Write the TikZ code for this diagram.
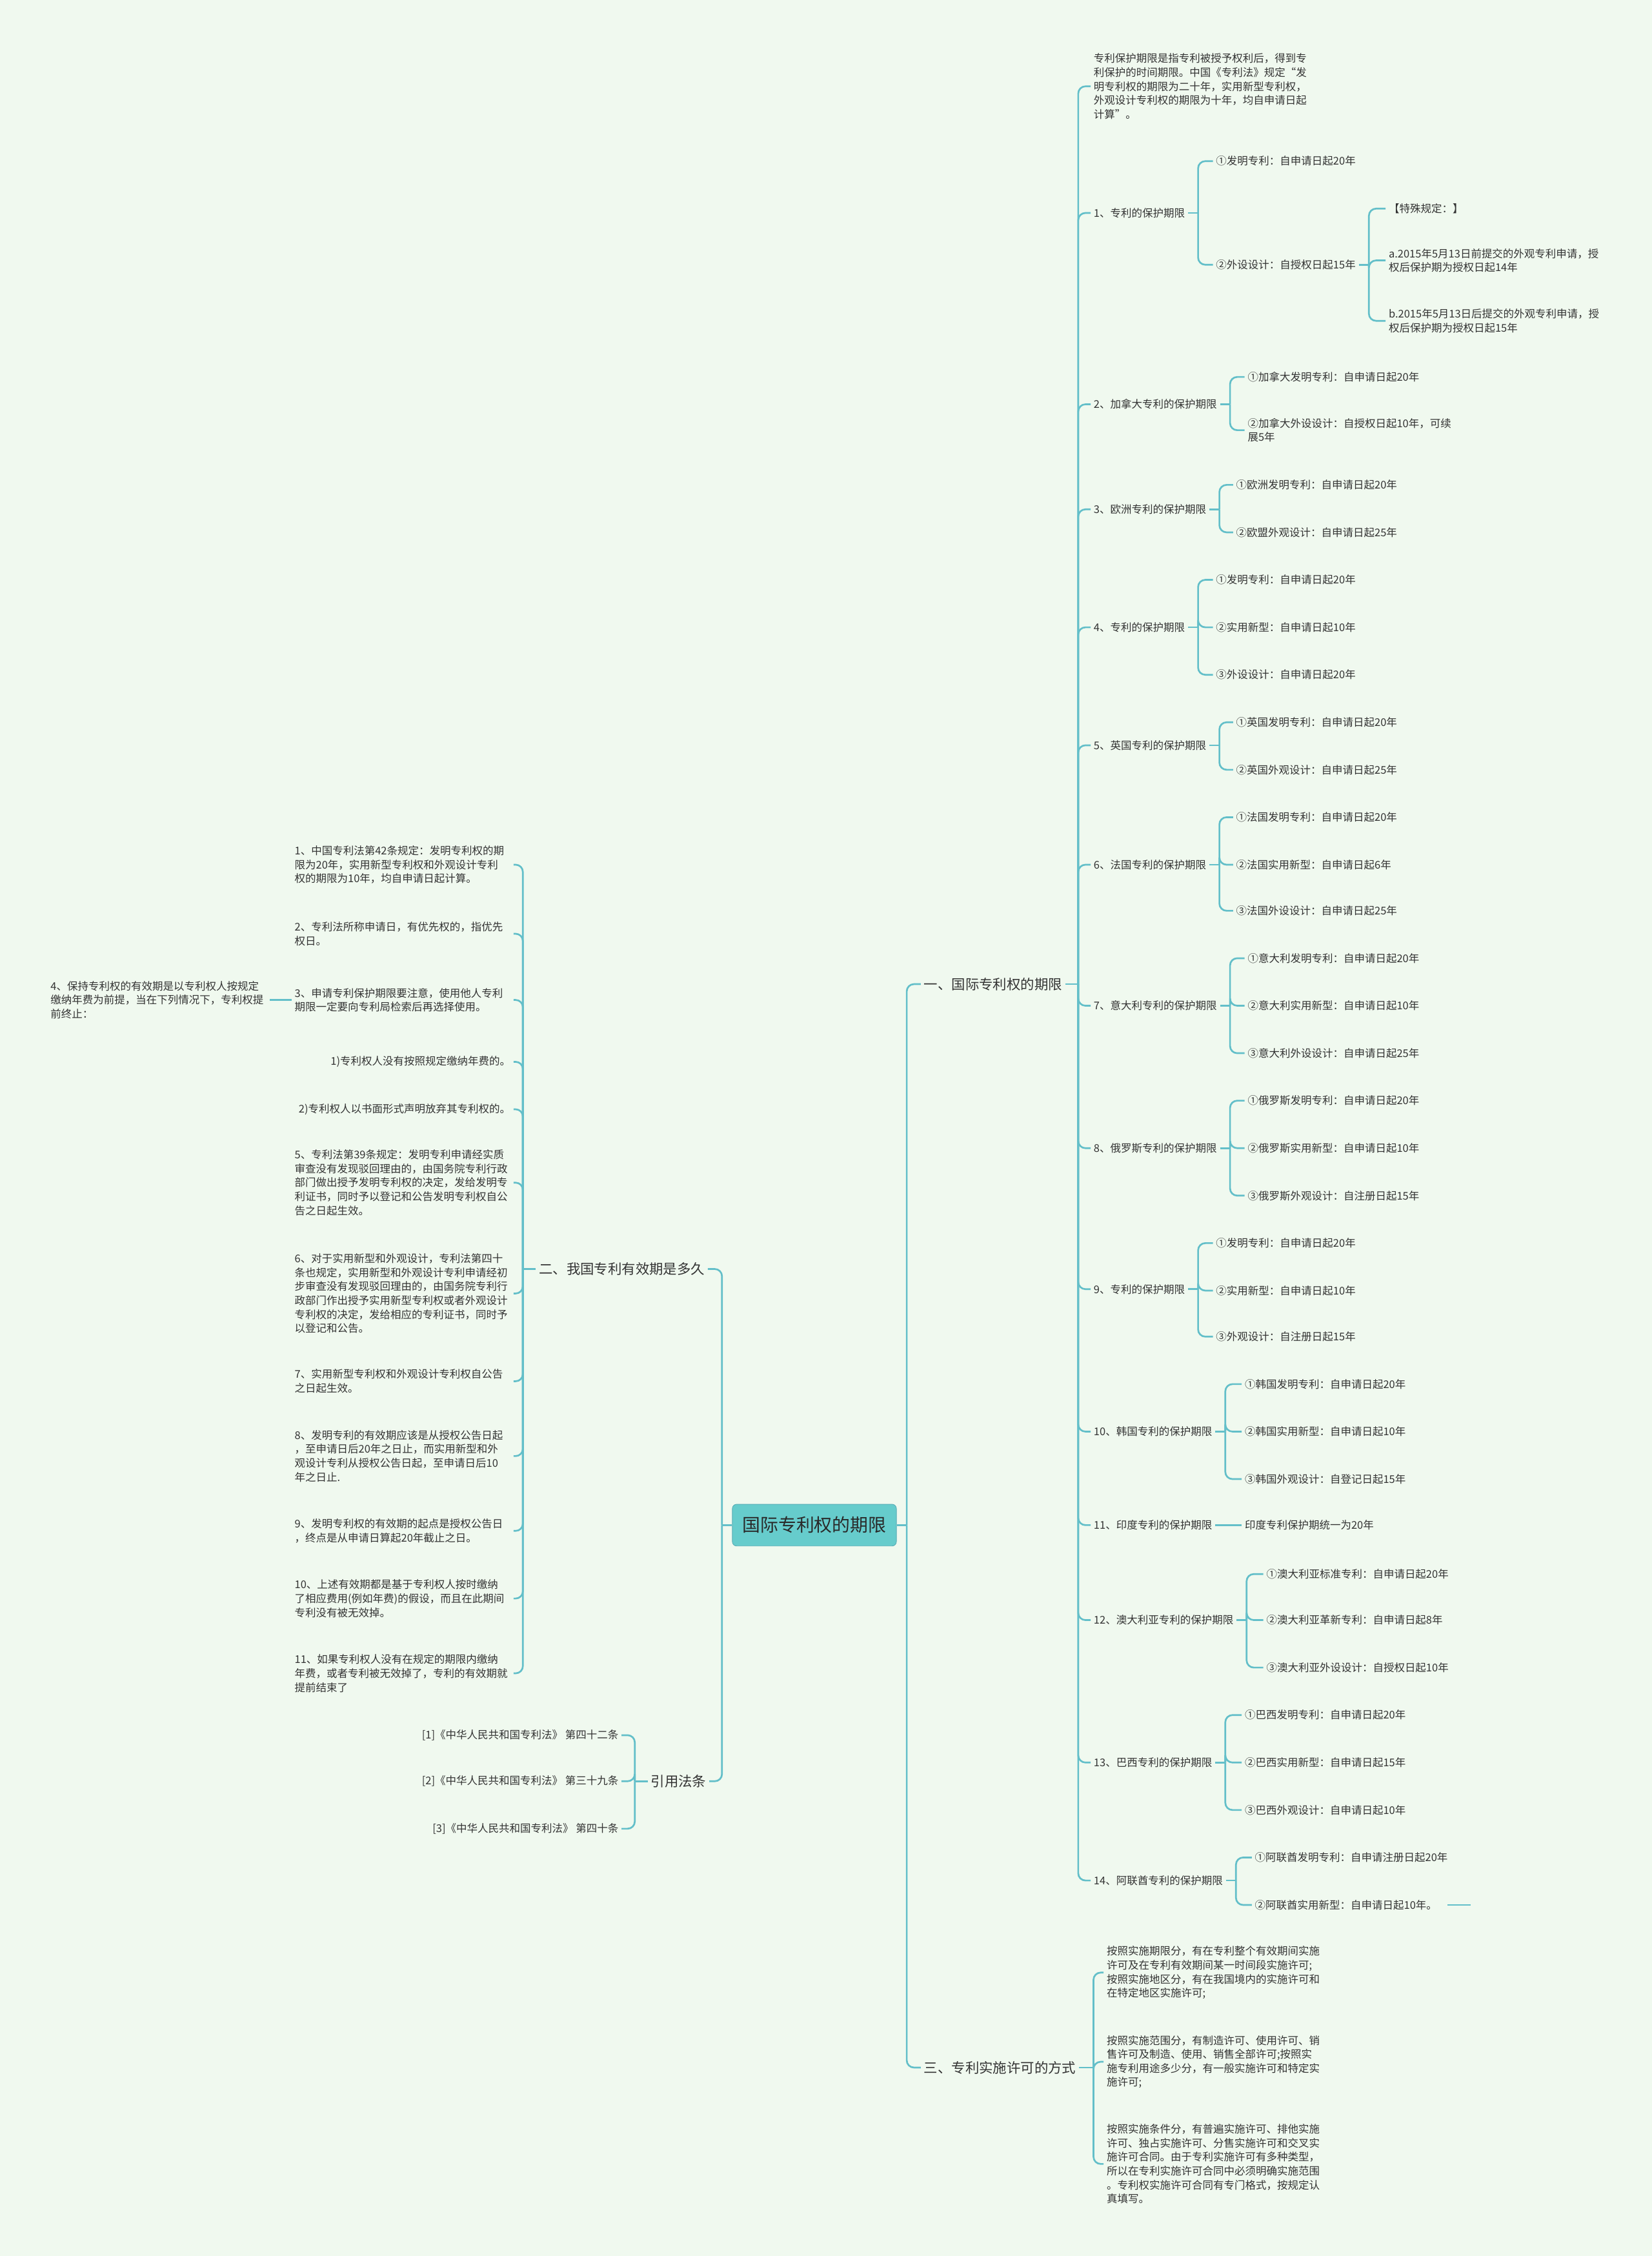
\documentclass[tikz,border=0pt]{standalone}
\usepackage{fontspec}
\newfontfamily\cjk{Noto Sans CJK SC}
\definecolor{bgcol}{HTML}{F0F9EF}
\definecolor{linecol}{HTML}{63BFC9}
\definecolor{rootcol}{HTML}{66CCCC}
\definecolor{txtcol}{HTML}{333333}

\begin{document}
\begin{tikzpicture}[x=1pt, y=-1pt,
  link/.style={draw=linecol, line width=1.2pt, rounded corners=5pt},
  leaf/.style={font=\cjk\fontsize{7.4}{9.7}\selectfont, text=txtcol, inner xsep=2pt, inner ysep=1pt, align=left},
  para/.style={leaf, text width=150pt},
  topic/.style={font=\cjk\fontsize{9.6}{12}\selectfont, text=txtcol, inner xsep=2pt},
  rootbox/.style={font=\cjk\fontsize{12.5}{15}\selectfont, text=txtcol!80!black, fill=rootcol, draw=linecol!90!black, rounded corners=3pt, minimum width=114pt, minimum height=29pt}]

% background
\fill[bgcol] (0,0) rectangle (1148,1568);
\useasboundingbox (0,0) rectangle (1148,1568);

% root and main topics
\node[rootbox] (root) at (566,1060) {国际专利权的期限};
\node[topic, anchor=west] (yi) at (640,684) {一、国际专利权的期限};
\node[topic, anchor=east] (er) at (492,882) {二、我国专利有效期是多久};
\node[topic, anchor=west] (san) at (640,1437) {三、专利实施许可的方式};
\node[topic, anchor=east] (yin) at (493,1238) {引用法条};

\draw[link] (root.east) -- ++(7,0) coordinate (jr);
\foreach \t in {yi,san} \draw[link] (jr) |- (\t.west);
\draw[link] (root.west) -- ++(-7,0) coordinate (jl);
\foreach \t in {er,yin} \draw[link] (jl) |- (\t.east);

% 一 countries
\node[para, anchor=west] (r0) at (758,60) {专利保护期限是指专利被授予权利后，得到专\\利保护的时间期限。中国《专利法》规定“发\\明专利权的期限为二十年，实用新型专利权，\\外观设计专利权的期限为十年，均自申请日起\\计算”。};
\node[leaf, anchor=west] (r1) at (758,148) {1、专利的保护期限};
\node[leaf, anchor=west] (r2) at (758,281) {2、加拿大专利的保护期限};
\node[leaf, anchor=west] (r3) at (758,354) {3、欧洲专利的保护期限};
\node[leaf, anchor=west] (r4) at (758,436) {4、专利的保护期限};
\node[leaf, anchor=west] (r5) at (758,518) {5、英国专利的保护期限};
\node[leaf, anchor=west] (r6) at (758,601) {6、法国专利的保护期限};
\node[leaf, anchor=west] (r7) at (758,699) {7、意大利专利的保护期限};
\node[leaf, anchor=west] (r8) at (758,798) {8、俄罗斯专利的保护期限};
\node[leaf, anchor=west] (r9) at (758,896) {9、专利的保护期限};
\node[leaf, anchor=west] (r10) at (758,995) {10、韩国专利的保护期限};
\node[leaf, anchor=west] (r11) at (758,1060) {11、印度专利的保护期限};
\node[leaf, anchor=west] (r12) at (758,1126) {12、澳大利亚专利的保护期限};
\node[leaf, anchor=west] (r13) at (758,1225) {13、巴西专利的保护期限};
\node[leaf, anchor=west] (r14) at (758,1307) {14、阿联酋专利的保护期限};

\draw[link] (yi.east) -- ++(9,0) coordinate (jyi);
\foreach \c in {r0,r1,r2,r3,r4,r5,r6,r7,r8,r9,r10,r11,r12,r13,r14} \draw[link] (jyi) |- (\c.west);

% 1
\node[leaf, anchor=west] (r1a) at (843,112) {①发明专利：自申请日起20年};
\node[leaf, anchor=west] (r1b) at (843,184) {②外设设计：自授权日起15年};
\node[leaf, anchor=west] (r1b1) at (963,145) {【特殊规定：】};
\node[leaf, anchor=west] (r1b2) at (963,181) {a.2015年5月13日前提交的外观专利申请，授\\权后保护期为授权日起14年};
\node[leaf, anchor=west] (r1b3) at (963,223) {b.2015年5月13日后提交的外观专利申请，授\\权后保护期为授权日起15年};
\draw[link] (r1.east) -- ++(7,0) coordinate (j1);
\foreach \c in {r1a,r1b} \draw[link] (j1) |- (\c.west);
\draw[link] (r1b.east) -- ++(7,0) coordinate (j1b);
\foreach \c in {r1b1,r1b2,r1b3} \draw[link] (j1b) |- (\c.west);

% 2
\node[leaf, anchor=west] (r2a) at (865,262) {①加拿大发明专利：自申请日起20年};
\node[leaf, anchor=west] (r2b) at (865,299) {②加拿大外设设计：自授权日起10年，可续\\展5年};
\draw[link] (r2.east) -- ++(7,0) coordinate (j2);
\foreach \c in {r2a,r2b} \draw[link] (j2) |- (\c.west);

% 3
\node[leaf, anchor=west] (r3a) at (857,337) {①欧洲发明专利：自申请日起20年};
\node[leaf, anchor=west] (r3b) at (857,370) {②欧盟外观设计：自申请日起25年};
\draw[link] (r3.east) -- ++(7,0) coordinate (j3);
\foreach \c in {r3a,r3b} \draw[link] (j3) |- (\c.west);

% 4
\node[leaf, anchor=west] (r4a) at (843,403) {①发明专利：自申请日起20年};
\node[leaf, anchor=west] (r4b) at (843,436) {②实用新型：自申请日起10年};
\node[leaf, anchor=west] (r4c) at (843,469) {③外设设计：自申请日起20年};
\draw[link] (r4.east) -- ++(7,0) coordinate (j4);
\foreach \c in {r4a,r4b,r4c} \draw[link] (j4) |- (\c.west);

% 5
\node[leaf, anchor=west] (r5a) at (857,502) {①英国发明专利：自申请日起20年};
\node[leaf, anchor=west] (r5b) at (857,535) {②英国外观设计：自申请日起25年};
\draw[link] (r5.east) -- ++(7,0) coordinate (j5);
\foreach \c in {r5a,r5b} \draw[link] (j5) |- (\c.west);

% 6
\node[leaf, anchor=west] (r6a) at (857,568) {①法国发明专利：自申请日起20年};
\node[leaf, anchor=west] (r6b) at (857,601) {②法国实用新型：自申请日起6年};
\node[leaf, anchor=west] (r6c) at (857,633) {③法国外设设计：自申请日起25年};
\draw[link] (r6.east) -- ++(7,0) coordinate (j6);
\foreach \c in {r6a,r6b,r6c} \draw[link] (j6) |- (\c.west);

% 7
\node[leaf, anchor=west] (r7a) at (865,666) {①意大利发明专利：自申请日起20年};
\node[leaf, anchor=west] (r7b) at (865,699) {②意大利实用新型：自申请日起10年};
\node[leaf, anchor=west] (r7c) at (865,732) {③意大利外设设计：自申请日起25年};
\draw[link] (r7.east) -- ++(7,0) coordinate (j7);
\foreach \c in {r7a,r7b,r7c} \draw[link] (j7) |- (\c.west);

% 8
\node[leaf, anchor=west] (r8a) at (865,765) {①俄罗斯发明专利：自申请日起20年};
\node[leaf, anchor=west] (r8b) at (865,798) {②俄罗斯实用新型：自申请日起10年};
\node[leaf, anchor=west] (r8c) at (865,831) {③俄罗斯外观设计：自注册日起15年};
\draw[link] (r8.east) -- ++(7,0) coordinate (j8);
\foreach \c in {r8a,r8b,r8c} \draw[link] (j8) |- (\c.west);

% 9
\node[leaf, anchor=west] (r9a) at (843,864) {①发明专利：自申请日起20年};
\node[leaf, anchor=west] (r9b) at (843,897) {②实用新型：自申请日起10年};
\node[leaf, anchor=west] (r9c) at (843,929) {③外观设计：自注册日起15年};
\draw[link] (r9.east) -- ++(7,0) coordinate (j9);
\foreach \c in {r9a,r9b,r9c} \draw[link] (j9) |- (\c.west);

% 10
\node[leaf, anchor=west] (r10a) at (863,962) {①韩国发明专利：自申请日起20年};
\node[leaf, anchor=west] (r10b) at (863,995) {②韩国实用新型：自申请日起10年};
\node[leaf, anchor=west] (r10c) at (863,1028) {③韩国外观设计：自登记日起15年};
\draw[link] (r10.east) -- ++(7,0) coordinate (j10);
\foreach \c in {r10a,r10b,r10c} \draw[link] (j10) |- (\c.west);

% 11
\node[leaf, anchor=west] (r11a) at (863,1060) {印度专利保护期统一为20年};
\draw[link] (r11.east) -- (r11a.west);

% 12
\node[leaf, anchor=west] (r12a) at (878,1094) {①澳大利亚标准专利：自申请日起20年};
\node[leaf, anchor=west] (r12b) at (878,1126) {②澳大利亚革新专利：自申请日起8年};
\node[leaf, anchor=west] (r12c) at (878,1159) {③澳大利亚外设设计：自授权日起10年};
\draw[link] (r12.east) -- ++(7,0) coordinate (j12);
\foreach \c in {r12a,r12b,r12c} \draw[link] (j12) |- (\c.west);

% 13
\node[leaf, anchor=west] (r13a) at (863,1192) {①巴西发明专利：自申请日起20年};
\node[leaf, anchor=west] (r13b) at (863,1225) {②巴西实用新型：自申请日起15年};
\node[leaf, anchor=west] (r13c) at (863,1258) {③巴西外观设计：自申请日起10年};
\draw[link] (r13.east) -- ++(7,0) coordinate (j13);
\foreach \c in {r13a,r13b,r13c} \draw[link] (j13) |- (\c.west);

% 14
\node[leaf, anchor=west] (r14a) at (870,1291) {①阿联酋发明专利：自申请注册日起20年};
\node[leaf, anchor=west] (r14b) at (870,1324) {②阿联酋实用新型：自申请日起10年。};
\draw[link] (r14.east) -- ++(7,0) coordinate (j14);
\foreach \c in {r14a,r14b} \draw[link] (j14) |- (\c.west);
\draw[link] ([xshift=5pt]r14b.east) -- ++(16,0) coordinate (r14end);

% 二 validity
\node[para, anchor=east] (l1) at (357,601) {1、中国专利法第42条规定：发明专利权的期\\限为20年，实用新型专利权和外观设计专利\\权的期限为10年，均自申请日起计算。};
\node[para, anchor=east] (l2) at (357,649) {2、专利法所称申请日，有优先权的，指优先\\权日。};
\node[para, anchor=east] (l3) at (357,695) {3、申请专利保护期限要注意，使用他人专利\\期限一定要向专利局检索后再选择使用。};
\node[leaf, anchor=east] (l3a) at (357,738) {1)专利权人没有按照规定缴纳年费的。};
\node[leaf, anchor=east] (l3b) at (357,771) {2)专利权人以书面形式声明放弃其专利权的。};
\node[para, anchor=east] (l5) at (357,822) {5、专利法第39条规定：发明专利申请经实质\\审查没有发现驳回理由的，由国务院专利行政\\部门做出授予发明专利权的决定，发给发明专\\利证书，同时予以登记和公告发明专利权自公\\告之日起生效。};
\node[para, anchor=east] (l6) at (357,899) {6、对于实用新型和外观设计，专利法第四十\\条也规定，实用新型和外观设计专利申请经初\\步审查没有发现驳回理由的，由国务院专利行\\政部门作出授予实用新型专利权或者外观设计\\专利权的决定，发给相应的专利证书，同时予\\以登记和公告。};
\node[para, anchor=east] (l7) at (357,960) {7、实用新型专利权和外观设计专利权自公告\\之日起生效。};
\node[para, anchor=east] (l8) at (357,1012) {8、发明专利的有效期应该是从授权公告日起\\，至申请日后20年之日止，而实用新型和外\\观设计专利从授权公告日起，至申请日后10\\年之日止.};
\node[para, anchor=east] (l9) at (357,1064) {9、发明专利权的有效期的起点是授权公告日\\，终点是从申请日算起20年截止之日。};
\node[para, anchor=east] (l10) at (357,1111) {10、上述有效期都是基于专利权人按时缴纳\\了相应费用(例如年费)的假设，而且在此期间\\专利没有被无效掉。};
\node[para, anchor=east] (l11) at (357,1163) {11、如果专利权人没有在规定的期限内缴纳\\年费，或者专利被无效掉了，专利的有效期就\\提前结束了};
\node[para, anchor=west] (l4) at (33,695) {4、保持专利权的有效期是以专利权人按规定\\缴纳年费为前提，当在下列情况下，专利权提\\前终止：};

\draw[link] (er.west) -- ++(-9,0) coordinate (jer);
\foreach \c in {l1,l2,l3,l3a,l3b,l5,l6,l7,l8,l9,l10,l11} \draw[link] (jer) |- (\c.east);
\draw[link] (l3.west) -- (l4.east);

% 引用法条
\node[leaf, anchor=east] (c1) at (432,1206) {[1]《中华人民共和国专利法》 第四十二条};
\node[leaf, anchor=east] (c2) at (432,1238) {[2]《中华人民共和国专利法》 第三十九条};
\node[leaf, anchor=east] (c3) at (432,1271) {[3]《中华人民共和国专利法》 第四十条};
\draw[link] (yin.west) -- ++(-9,0) coordinate (jyin);
\foreach \c in {c1,c2,c3} \draw[link] (jyin) |- (\c.east);

% 三 licensing
\node[para, anchor=west] (s1) at (767,1371) {按照实施期限分，有在专利整个有效期间实施\\许可及在专利有效期间某一时间段实施许可;\\按照实施地区分，有在我国境内的实施许可和\\在特定地区实施许可;};
\node[para, anchor=west] (s2) at (767,1433) {按照实施范围分，有制造许可、使用许可、销\\售许可及制造、使用、销售全部许可;按照实\\施专利用途多少分，有一般实施许可和特定实\\施许可;};
\node[para, anchor=west] (s3) at (767,1504) {按照实施条件分，有普遍实施许可、排他实施\\许可、独占实施许可、分售实施许可和交叉实\\施许可合同。由于专利实施许可有多种类型，\\所以在专利实施许可合同中必须明确实施范围\\。专利权实施许可合同有专门格式，按规定认\\真填写。};
\draw[link] (san.east) -- ++(10,0) coordinate (jsan);
\foreach \c in {s1,s2,s3} \draw[link] (jsan) |- (\c.west);
\end{tikzpicture}
\end{document}
